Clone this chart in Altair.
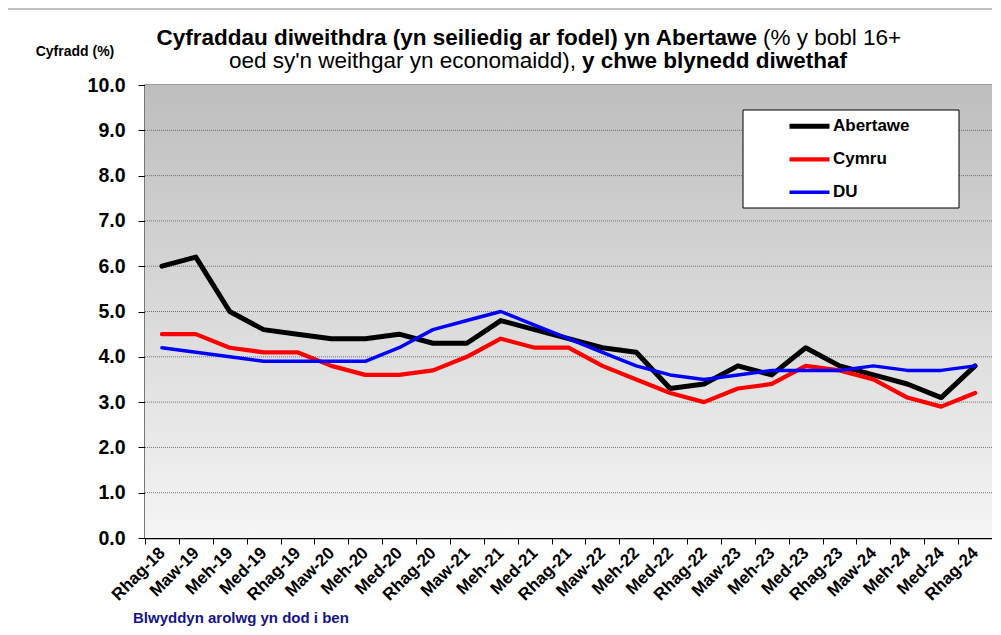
import altair as alt
import pandas as pd

categories = ["Rhag-18", "Maw-19", "Meh-19", "Med-19", "Rhag-19", "Maw-20", "Meh-20", "Med-20",
              "Rhag-20", "Maw-21", "Meh-21", "Med-21", "Rhag-21", "Maw-22", "Meh-22", "Med-22",
              "Rhag-22", "Maw-23", "Meh-23", "Med-23", "Rhag-23", "Maw-24", "Meh-24", "Med-24", "Rhag-24"]
abertawe = [6.0, 6.2, 5.0, 4.6, 4.5, 4.4, 4.4, 4.5, 4.3, 4.3, 4.8, 4.6, 4.4, 4.2, 4.1, 3.3,
            3.4, 3.8, 3.6, 4.2, 3.8, 3.6, 3.4, 3.1, 3.8]
cymru = [4.5, 4.5, 4.2, 4.1, 4.1, 3.8, 3.6, 3.6, 3.7, 4.0, 4.4, 4.2, 4.2, 3.8, 3.5, 3.2,
         3.0, 3.3, 3.4, 3.8, 3.7, 3.5, 3.1, 2.9, 3.2]
du = [4.2, 4.1, 4.0, 3.9, 3.9, 3.9, 3.9, 4.2, 4.6, 4.8, 5.0, 4.7, 4.4, 4.1, 3.8, 3.6,
      3.5, 3.6, 3.7, 3.7, 3.7, 3.8, 3.7, 3.7, 3.8]
series_names = ["Abertawe", "Cymru", "DU"]
series_colors = ["#000000", "#ff0000", "#0000ff"]
series_widths = [5, 3.5, 3.5]
y_ticks = [0, 1, 2, 3, 4, 5, 6, 7, 8, 9, 10]
grid_values = [1, 2, 3, 4, 5, 6, 7, 8, 9]

rows = []
for name, vals in zip(series_names, [abertawe, cymru, du]):
    for c, v in zip(categories, vals):
        rows.append({"Cyfnod": c, "Cyfres": name, "Cyfradd": v})
df = pd.DataFrame(rows)

W, H = 847, 453
FONT = "Liberation Sans"
one = alt.Data(values=[{"k": 1}])

yscale = alt.Scale(domain=[0, 10], nice=False, zero=True)
yaxis = alt.Axis(title=None, values=y_ticks, format=".1f", labelFont=FONT,
                 labelFontSize=19.5, labelFontWeight="bold", labelColor="#000000",
                 tickColor="#000000", tickSize=7, domainColor="#000000",
                 domainWidth=1.5, labelPadding=13, grid=False)

bg = alt.Chart(one).mark_rect(
    fill=alt.Gradient(gradient="linear",
                      stops=[alt.GradientStop(color="#bebebe", offset=0),
                             alt.GradientStop(color="#f5f5f5", offset=1)],
                      x1=0, x2=0, y1=0, y2=1)
).encode(x=alt.value(0), x2=alt.value(W), y=alt.value(0), y2=alt.value(H))

grid = alt.Chart(pd.DataFrame({"v": grid_values})).mark_rule(
    color="#707070", strokeDash=[1, 1], strokeWidth=1
).encode(y=alt.Y("v:Q", scale=yscale, axis=yaxis))

legend = alt.Legend(
    orient="none", legendX=642, legendY=25, title=None,
    symbolType="stroke", symbolSize=1600, labelFont=FONT, labelFontSize=17,
    labelFontWeight="bold", labelColor="#000000", clipHeight=32.5, rowPadding=0,
    padding=0, labelOffset=1)

lines = alt.Chart(df).mark_line(strokeCap="round", strokeJoin="round").encode(
    x=alt.X("Cyfnod:O", sort=categories, bandPosition=0.5,
            scale=alt.Scale(type="band", paddingInner=0, paddingOuter=0),
            axis=alt.Axis(title=None, labelAngle=-45, labelAlign="right", labelBaseline="middle",
                          labelFont=FONT, labelFontSize=17, labelFontWeight="bold",
                          labelColor="#000000", tickColor="#000000", tickSize=6,
                          domainColor="#000000", domainWidth=1.5, tickBand="extent",
                          labelPadding=6, grid=False, labelOverlap=False)),
    y=alt.Y("Cyfradd:Q", scale=yscale, axis=yaxis),
    color=alt.Color("Cyfres:N", sort=series_names,
                    scale=alt.Scale(domain=series_names, range=series_colors), legend=legend),
    strokeWidth=alt.StrokeWidth("Cyfres:N", sort=series_names,
                                scale=alt.Scale(domain=series_names, range=series_widths),
                                legend=legend),
)

legend_box = alt.Chart(one).mark_rect(fill="#ffffff", stroke="#000000", strokeWidth=1).encode(
    x=alt.value(598), x2=alt.value(814), y=alt.value(25), y2=alt.value(123))

frame_top = alt.Chart(one).mark_rule(color="#808080", strokeWidth=1).encode(
    x=alt.value(-142), x2=alt.value(W + 20), y=alt.value(-76))
frame_left = alt.Chart(one).mark_rule(color="#808080", strokeWidth=1).encode(
    x=alt.value(-142), y=alt.value(-76), y2=alt.value(H + 100))

def txt(s, x, y, size, weight="bold", align="left", color="#000000"):
    return alt.Chart(one).mark_text(
        text=s, font=FONT, fontSize=size, fontWeight=weight, align=align,
        baseline="alphabetic", color=color
    ).encode(x=alt.value(x), y=alt.value(y))

t1a = txt("Cyfraddau diweithdra (yn seiliedig ar fodel) yn Abertawe", 612, -40, 22.5, "bold", "right")
t1b = txt("(% y bobl 16+", 618, -40, 22.5, "normal", "left")
t2a = txt("oed sy'n weithgar yn economaidd),", 431, -17, 22.5, "normal", "right")
t2b = txt("y chwe blynedd diwethaf", 437, -17, 22.5, "bold", "left")
ylab = txt("Cyfradd (%)", -70, -29, 14, "bold", "center")
xlab = txt("Blwyddyn arolwg yn dod i ben", -12, 538, 15, "bold", "left", "#14148c")

chart = alt.layer(
    bg, grid, lines, legend_box, frame_top, frame_left, t1a, t1b, t2a, t2b, ylab, xlab
).properties(
    width=W, height=H,
    autosize=alt.AutoSizeParams(type="none"),
    padding={"left": 137, "top": 77, "right": 0, "bottom": 89},
).configure_view(stroke="#808080", strokeWidth=1.5)

chart.save("out.html", embed_options={"renderer": "svg", "actions": False})
